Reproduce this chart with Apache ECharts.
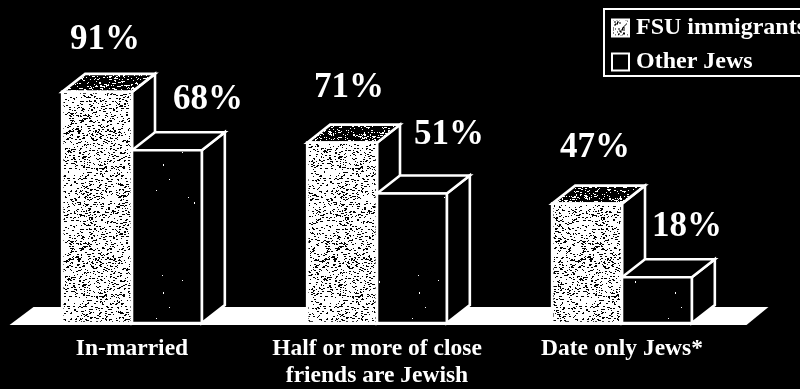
<!DOCTYPE html>
<html>
<head>
<meta charset="utf-8">
<style>html,body{margin:0;padding:0;background:#000;overflow:hidden}#c{width:800px;height:389px}</style>
<script src="https://cdn.jsdelivr.net/npm/echarts@6/dist/echarts.min.js"></script>
</head>
<body>
<div id="c"></div>
<script>
var categories = ['In-married', 'Half or more of close\nfriends are Jewish', 'Date only Jews*'];
var seriesNames = ['FSU immigrants', 'Other Jews'];
var fsuValues = [91, 71, 47];
var otherValues = [68, 51, 18];

var FONT = '"Liberation Serif", serif';
var labelOffsets = [
  [[8, -52], [7, -55], [8, -56]],
  [[41, -50], [37, -59], [30, -50]]
];

function texture(size, density, dash) {
  var cv = document.createElement('canvas');
  cv.width = cv.height = size;
  var g = cv.getContext('2d');
  g.fillStyle = '#fff';
  g.fillRect(0, 0, size, size);
  g.fillStyle = '#000';
  var s = 12345;
  function next() { s = (s * 1103515245 + 12345) & 0x7fffffff; return s / 0x7fffffff; }
  for (var i = 0; i < density; i++) {
    var x = Math.floor(next() * size), y = Math.floor(next() * size);
    g.fillRect(x, y, 1 + Math.floor(next() * dash), 1);
  }
  return cv;
}
function sparse(size, count) {
  var cv = document.createElement('canvas');
  cv.width = cv.height = size;
  var g = cv.getContext('2d');
  g.fillStyle = '#000';
  g.fillRect(0, 0, size, size);
  g.fillStyle = '#fff';
  var s = 777;
  function next() { s = (s * 1103515245 + 12345) & 0x7fffffff; return s / 0x7fffffff; }
  for (var i = 0; i < count; i++) {
    g.fillRect(Math.floor(next() * size), Math.floor(next() * size), 1, 1 + Math.floor(next() * 2));
  }
  return cv;
}
var frontA = { image: texture(128, 2300, 2), repeat: 'repeat' };
var topA = { image: texture(64, 3600, 3), repeat: 'repeat' };
var frontB = { image: sparse(128, 16), repeat: 'repeat' };

var DX = 23, DY = 18;

function poly(points, fill) {
  return {
    type: 'polygon',
    shape: { points: points },
    style: { fill: fill, stroke: '#fff', lineWidth: 2.6, lineJoin: 'miter' }
  };
}

function barRenderer(si, front, top) {
  return function (params, api) {
    var idx = api.value(0), val = api.value(1);
    var p = api.coord([idx, val]);
    var base = api.coord([idx, 0]);
    var w = api.size([1, 0])[0] * 0.285;
    var x0 = si === 0 ? p[0] - w : p[0];
    var x1 = x0 + w;
    var y0 = p[1], y1 = base[1];
    var off = labelOffsets[si][idx];
    return {
      type: 'group',
      children: [
        poly([[x1, y0], [x1 + DX, y0 - DY], [x1 + DX, y1 - DY], [x1, y1]], '#000'),
        poly([[x0, y0], [x0 + DX, y0 - DY], [x1 + DX, y0 - DY], [x1, y0]], top),
        poly([[x0, y0], [x1, y0], [x1, y1], [x0, y1]], front),
        {
          type: 'text',
          style: {
            x: (x0 + x1) / 2 + off[0], y: y0 + off[1],
            text: val + '%',
            fill: '#fff',
            font: 'bold 35px ' + FONT,
            align: 'center', verticalAlign: 'middle'
          }
        }
      ]
    };
  };
}

function pairs(vals) { return vals.map(function (v, i) { return [i, v]; }); }

var chart = echarts.init(document.getElementById('c'), null, { renderer: 'canvas' });
chart.setOption({
  animation: false,
  backgroundColor: '#000',
  grid: { left: 9.5, right: 55.5, top: 69, bottom: 66 },
  legend: {
    left: 604, top: 9, orient: 'vertical',
    padding: [7, 30, 2, 7],
    itemGap: 10,
    itemWidth: 17, itemHeight: 17,
    borderColor: '#fff', borderWidth: 2,
    textStyle: { color: '#fff', fontFamily: FONT, fontWeight: 'bold', fontSize: 24, padding: [0, 0, 0, 2] },
    data: [
      { name: seriesNames[0], icon: 'rect', itemStyle: { color: frontA, borderColor: '#fff', borderWidth: 2 } },
      { name: seriesNames[1], icon: 'rect', itemStyle: { color: '#000', borderColor: '#fff', borderWidth: 2 } }
    ]
  },
  xAxis: {
    type: 'category',
    data: categories,
    axisLine: { show: false },
    axisTick: { show: false },
    axisLabel: {
      color: '#fff', fontFamily: FONT, fontWeight: 'bold', fontSize: 23.5,
      lineHeight: 27, margin: 12, interval: 0
    }
  },
  yAxis: { type: 'value', min: 0, max: 100, show: false },
  series: [
    {
      type: 'custom', name: 'floor', silent: true, z: 1,
      data: [[0, 0]],
      renderItem: function (params, api) {
        var c = params.coordSys;
        var b = c.y + c.height;
        return {
          type: 'polygon',
          shape: { points: [[c.x, b + 2], [c.x + 24, b - 16], [c.x + c.width + 24, b - 16], [c.x + c.width + 2, b + 2]] },
          style: { fill: '#fff' }
        };
      }
    },
    {
      type: 'custom', name: seriesNames[0], z: 2,
      data: pairs(fsuValues),
      encode: { x: 0, y: 1 },
      renderItem: barRenderer(0, frontA, topA)
    },
    {
      type: 'custom', name: seriesNames[1], z: 3,
      data: pairs(otherValues),
      encode: { x: 0, y: 1 },
      renderItem: barRenderer(1, frontB, '#000')
    }
  ]
});
</script>
</body>
</html>
